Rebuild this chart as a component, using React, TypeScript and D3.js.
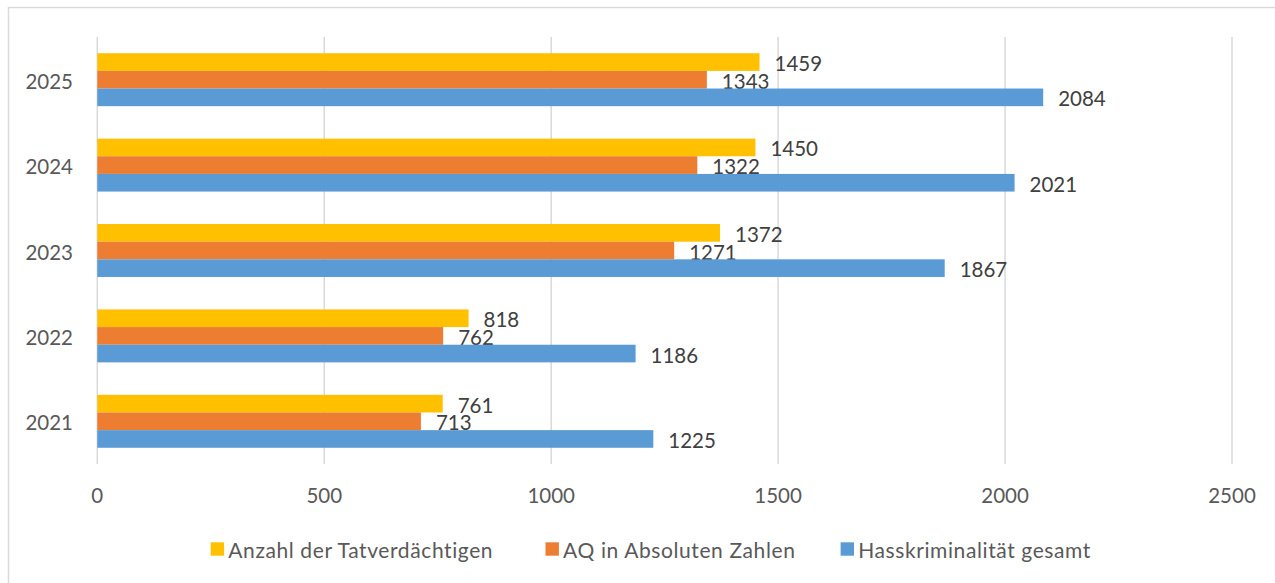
import React from "react";
import * as d3 from "d3";

const years = ["2021", "2022", "2023", "2024", "2025"];
const seriesNames = ["Anzahl der Tatverdächtigen", "AQ in Absoluten Zahlen", "Hasskriminalität gesamt"];
const seriesColors = ["#FFC000", "#ED7D31", "#5B9BD5"];
const tatverdaechtige = [761, 818, 1372, 1450, 1459];
const aqAbsolut = [713, 762, 1271, 1322, 1343];
const hassGesamt = [1225, 1186, 1867, 2021, 2084];
const xTicks = [0, 500, 1000, 1500, 2000, 2500];

const seriesValues = [tatverdaechtige, aqAbsolut, hassGesamt];

const W = 1275;
const H = 583;
const FONT = "Lato, 'Open Sans', sans-serif";

export default function App() {
  const x = d3.scaleLinear().domain([0, 2500]).range([97.3, 1232]);
  const y = d3
    .scaleBand<string>()
    .domain([...years].reverse())
    .range([37, 464])
    .paddingInner(0.38)
    .paddingOuter(0.19);
  const inner = d3
    .scaleBand<string>()
    .domain(seriesNames)
    .range([0, y.bandwidth()]);

  const legendX = [210.7, 545.5, 840.6];
  const legendY = 549;

  return (
    <svg
      width={W}
      height={H}
      style={{ position: "absolute", left: 0, top: 0, background: "#fff" }}
      fontFamily={FONT}
    >
      <rect x={8.5} y={7.5} width={W + 20} height={H + 20} fill="#fff" stroke="#D9D9D9" strokeWidth={1.5} />
      {xTicks.map((t) => (
        <line key={"g" + t} x1={x(t)} x2={x(t)} y1={37} y2={464} stroke="#D9D9D9" strokeWidth={1.5} />
      ))}
      {years.map((yr, i) => (
        <g key={yr}>
          {seriesNames.map((s, j) => {
            const v = seriesValues[j][i];
            const by = (y(yr) ?? 0) + (inner(s) ?? 0);
            const bh = inner.bandwidth();
            return (
              <g key={s}>
                <rect x={x(0)} y={by} width={x(v) - x(0)} height={bh} fill={seriesColors[j]} />
                <text
                  x={x(v) + 15}
                  y={by + bh / 2 + 1}
                  dominantBaseline="central"
                  fontSize={20.5}
                  fill="#404040"
                >
                  {v}
                </text>
              </g>
            );
          })}
          <text
            x={73}
            y={(y(yr) ?? 0) + y.bandwidth() / 2 + 1}
            textAnchor="end"
            dominantBaseline="central"
            fontSize={20.5}
            fill="#595959"
          >
            {yr}
          </text>
        </g>
      ))}
      {xTicks.map((t) => (
        <text
          key={"t" + t}
          x={x(t)}
          y={495}
          textAnchor="middle"
          dominantBaseline="central"
          fontSize={20.5}
          fill="#595959"
        >
          {t}
        </text>
      ))}
      {seriesNames.map((s, j) => (
        <g key={"l" + s}>
          <rect x={legendX[j]} y={legendY - 6.7} width={13.4} height={13.4} fill={seriesColors[j]} />
          <text
            x={legendX[j] + 17.6}
            y={legendY + 0.5}
            dominantBaseline="central"
            fontSize={21}
            letterSpacing={0.6}
            fill="#595959"
          >
            {s}
          </text>
        </g>
      ))}
    </svg>
  );
}
